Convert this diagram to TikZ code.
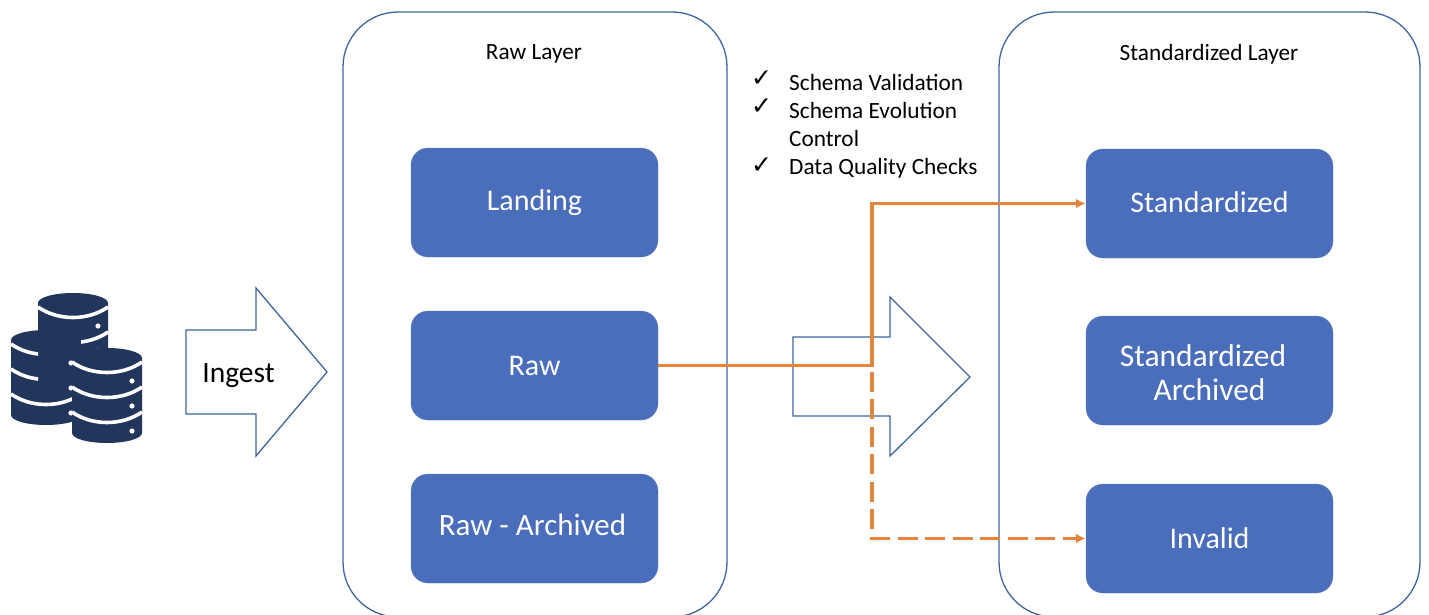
\documentclass[tikz,border=0pt]{standalone}
\usepackage{fontspec}
\setmainfont{Carlito}
\newfontfamily\symfont{DejaVu Sans}
\usetikzlibrary{arrows.meta}
\definecolor{boxblue}{HTML}{4A6DBC}
\definecolor{edgeblue}{HTML}{41659F}
\definecolor{flow}{HTML}{E2853F}
\definecolor{dbnavy}{HTML}{22365C}
\newcommand{\dbbody}[2]{%
  \fill[dbnavy] (#1,#2+10) arc[x radius=35,y radius=10,start angle=180,end angle=360]
    -- (#1+70,#2+85) arc[x radius=35,y radius=10,start angle=0,end angle=180] -- cycle;
}
\newcommand{\dbband}[3]{%
  \draw[white,line width=3.6pt] (#1,#2+14+25*#3) .. controls (#1+20,#2+28+25*#3) and (#1+50,#2+28+25*#3) .. (#1+70,#2+14+25*#3);
}
\newcommand{\dbdot}[3]{%
  \fill[white] (#1+60,#2+33+25*#3) circle[radius=2.6];
}
\tikzset{
  x=1pt,y=-1pt,
  layerbox/.style={draw=edgeblue,line width=1.3pt,rounded corners=55pt,fill=white,inner sep=0pt},
  stagebox/.style={draw=edgeblue!80,fill=boxblue,rounded corners=17pt,minimum width=247pt,minimum height=109pt,inner sep=0pt,text=white,font=\fontsize{30}{34}\selectfont,align=center},
  layertitle/.style={font=\fontsize{23.3}{28}\selectfont,text=black},
  blockarrow/.style={draw=edgeblue,line width=1.3pt,fill=white,line join=miter},
  checkitem/.style={font=\fontsize{23.3}{28}\selectfont,anchor=base west,inner sep=0pt},
  checkmark/.style={font=\symfont\fontsize{25}{28}\selectfont,anchor=base west,inner sep=0pt},
  flowline/.style={draw=flow,line width=3.1pt,-{Latex[length=10pt,width=10pt]}},
}
\begin{document}
\begin{tikzpicture}
\useasboundingbox (0,0) rectangle (1429,615);
\fill[white] (0,0) rectangle (1429,615);
% layer frames, cut by the lower edge of the picture
\begin{scope}
\clip (0,0) rectangle (1429,615);
\node[layerbox,minimum width=384pt,minimum height=605pt] (rawlayer) at (535,314.5) {};
\node[layerbox,minimum width=421pt,minimum height=605pt] (stdlayer) at (1209.5,314.5) {};
\end{scope}
\node[layertitle] (rawtitle) at (534,54) {Raw Layer};
\node[layertitle] (stdtitle) at (1209,54) {Standardized Layer};
% stages
\node[stagebox] (landing) at (534.5,202.5) {\raisebox{-9pt}{Landing}};
\node[stagebox] (raw) at (534.5,365.5) {Raw};
\node[stagebox,font=\fontsize{31}{34}\selectfont] (rawarch) at (534.5,528.5) {\raisebox{7pt}{Raw - Archived}\hspace{4pt}\mbox{}};
\node[stagebox] (std) at (1209.5,203.5) {\raisebox{2pt}{Standardized}};
\node[stagebox,font=\fontsize{31.5}{34}\selectfont] (stdarch) at (1209.5,370.5) {\rule{0pt}{25.5pt}Standardized\hspace{13pt}\mbox{}\\ Archived};
\node[stagebox] (invalid) at (1209.5,538.5) {Invalid};
% block arrows
\draw[blockarrow] (186,330) -- (256,330) -- (256,288) -- (327,372) -- (256,456) -- (256,414) -- (186,414) -- cycle;
\node[font=\fontsize{29.5}{32}\selectfont,text=black] (ingest) at (238.5,376) {Ingest};
\draw[blockarrow] (793,337) -- (890,337) -- (890,297) -- (970,377) -- (890,456) -- (890,416) -- (793,416) -- cycle;
% database icon
\dbbody{11}{330}
\dbbody{38}{293}
\begin{scope}
\clip (0,280) rectangle (38,450);
\dbband{11}{330}{0}
\dbband{11}{330}{1}
\end{scope}
\begin{scope}
\clip (0,280) rectangle (72,450);
\dbband{11}{330}{2}
\end{scope}
\dbband{38}{293}{0}
\begin{scope}
\clip (81,280) rectangle (120,450);
\dbband{38}{293}{1}
\end{scope}
\dbdot{38}{293}{0}
\dbdot{38}{293}{1}
\dbdot{11}{330}{0}
\dbdot{11}{330}{1}
\dbdot{11}{330}{2}
\dbbody{72}{348}
\foreach \k in {0,1,2}{\dbband{72}{348}{\k}\dbdot{72}{348}{\k}}
% check list
\node[checkmark] (c1) at (751,87) {✓};
\node[checkmark] (c2) at (751,115) {✓};
\node[checkmark] (c3) at (751,173) {✓};
\node[checkitem] (t1) at (789,90.5) {Schema Validation};
\node[checkitem] (t2) at (789,118.5) {Schema Evolution};
\node[checkitem] (t2b) at (789,146.5) {Control};
\node[checkitem] (t3) at (789,174) {Data Quality Checks};
% flows
\coordinate (bend) at (872,365.5);
\draw[flowline,dash pattern=on 20pt off 7.5pt] (raw.east) -- (bend) |- (invalid.west);
\draw[flowline] (raw.east) -- (bend) |- (std.west);
\end{tikzpicture}
\end{document}
